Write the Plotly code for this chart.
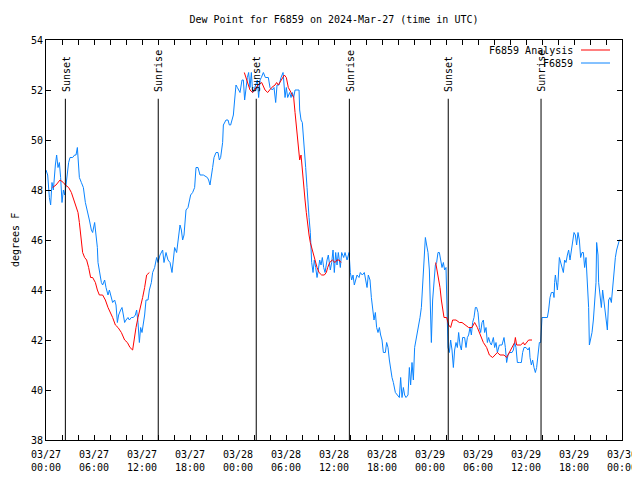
import pandas as pd
import plotly.graph_objects as go

# Hours after 2024-03-27 00:00 UTC
BASE = pd.Timestamp("2024-03-27 00:00")

obs_hours = [
    0.00, 0.21, 0.42, 0.58, 0.75, 0.92, 1.17, 1.33, 1.50, 1.67, 1.83, 2.00, 2.17, 2.33, 2.50, 2.67,
    2.83, 3.00, 3.33, 3.58, 3.75, 3.92, 4.04, 4.17, 4.42, 4.67, 4.92, 5.08, 5.25, 5.42, 5.67, 5.83,
    6.08, 6.25, 6.42, 6.50, 6.67, 6.92, 7.08, 7.33, 7.50, 7.75, 7.92, 8.17, 8.33, 8.58, 8.75, 8.92,
    9.08, 9.33, 9.50, 9.67, 9.83, 10.00, 10.25, 10.42, 10.67, 10.92, 11.17, 11.33, 11.50, 11.67,
    11.83, 12.00, 12.17, 12.33, 12.50, 12.75, 12.92, 13.17, 13.33, 13.58, 13.83, 14.00, 14.25,
    14.42, 14.58, 14.75, 15.00, 15.25, 15.50, 15.75, 15.92, 16.08, 16.33, 16.50, 16.75, 16.92,
    17.08, 17.25, 17.42, 17.50, 17.75, 17.92, 18.08, 18.33, 18.58, 18.75, 19.00, 19.25, 19.67,
    20.17, 20.33, 20.50, 20.67, 20.83, 21.00, 21.25, 21.50, 21.67, 21.83, 22.08, 22.17, 22.50,
    22.75, 22.92, 23.08, 23.25, 23.42, 23.58, 23.75, 23.92, 24.08, 24.25, 24.50, 24.67, 24.83,
    25.00, 25.17, 25.33, 25.50, 25.67, 25.83, 26.00, 26.25, 26.42, 26.58, 26.75, 26.92, 27.17,
    27.42, 27.79, 28.00, 28.29, 28.50, 28.71, 28.88, 29.13, 29.38, 29.63, 29.71, 29.88, 30.04,
    30.21, 30.46, 30.63, 30.79, 30.96, 31.13, 31.29, 31.63, 31.71, 31.88, 32.04, 32.21, 32.38,
    32.46, 32.63, 32.71, 32.88, 33.04, 33.13, 33.21, 33.38, 33.54, 33.71, 33.88, 34.04, 34.21,
    34.38, 34.54, 34.71, 34.88, 35.13, 35.29, 35.54, 35.71, 35.88, 36.04, 36.21, 36.38, 36.54,
    36.79, 36.96, 37.21, 37.38, 37.63, 37.88, 38.04, 38.21, 38.38, 38.54, 38.71, 38.88, 39.13,
    39.29, 39.54, 39.79, 39.96, 40.13, 40.29, 40.50, 40.67, 40.83, 41.00, 41.17, 41.33, 41.50,
    41.67, 41.83, 42.00, 42.17, 42.42, 42.58, 42.75, 42.92, 43.08, 43.25, 43.42, 43.67, 43.92,
    44.17, 44.33, 44.50, 44.67, 44.83, 45.00, 45.25, 45.42, 45.58, 45.75, 45.92, 46.08, 46.33,
    46.58, 46.75, 46.92, 47.08, 47.25, 47.42, 47.58, 47.75, 47.92, 48.08, 48.17, 48.33, 48.50,
    48.67, 48.83, 49.00, 49.17, 49.33, 49.50, 49.67, 49.83, 50.00, 50.17, 50.25, 50.42, 50.58,
    50.75, 50.92, 51.08, 51.25, 51.42, 51.58, 51.75, 51.92, 52.08, 52.33, 52.50, 52.67, 52.83,
    53.00, 53.17, 53.33, 53.50, 53.67, 53.83, 54.00, 54.17, 54.33, 54.50, 54.67, 54.83, 55.00,
    55.17, 55.33, 55.50, 55.67, 55.92, 56.08, 56.25, 56.42, 56.67, 57.00, 57.25, 57.42, 57.58,
    57.75, 57.92, 58.25, 58.42, 58.58, 58.75, 58.92, 59.17, 59.42, 59.58, 59.75, 60.00, 60.25,
    60.42, 60.50, 60.67, 60.83, 61.00, 61.17, 61.33, 61.50, 61.67, 61.83, 61.92, 62.00, 62.67,
    62.83, 63.00, 63.17, 63.42, 63.50, 63.58, 63.67, 63.92, 64.00, 64.17, 64.33, 64.50, 64.67,
    64.83, 65.00, 65.17, 65.33, 65.50, 65.67, 65.83, 66.00, 66.17, 66.33, 66.50, 66.67, 66.83,
    67.00, 67.17, 67.33, 67.50, 67.67, 67.83, 67.92, 68.08, 68.25, 68.42, 68.58, 68.75, 68.83,
    69.00, 69.08, 69.25, 69.42, 69.58, 69.75, 69.92, 70.08, 70.17, 70.33, 70.50, 70.67, 70.83,
    71.00, 71.17, 71.33, 71.50, 71.67, 71.83,
]
obs_dewpt = [
    48.8, 48.6, 47.7, 47.4, 48.3, 48.0, 49.0, 49.4, 48.9, 49.1, 48.5, 47.5, 48.0, 47.8, 48.2, 48.7,
    49.1, 49.3, 49.3, 49.4, 49.4, 49.7, 49.2, 48.5, 48.3, 48.1, 47.5, 47.3, 47.0, 46.8, 46.4, 46.3,
    46.7, 46.2, 45.7, 45.1, 44.7, 44.3, 44.2, 44.4, 44.1, 43.8, 44.0, 43.7, 43.5, 43.6, 43.4, 42.7,
    43.0, 43.2, 43.3, 43.0, 42.7, 42.8, 42.9, 42.8, 42.9, 42.9, 43.0, 43.2, 42.7, 41.9,
    42.5, 42.3, 42.6, 43.0, 43.6, 43.6, 44.0, 44.3, 44.7, 44.9, 45.3, 45.1, 45.4,
    45.5, 45.6, 45.1, 45.5, 45.2, 45.1, 44.7, 45.2, 45.7, 45.5, 45.9, 46.6, 46.4,
    46.0, 46.2, 46.8, 47.2, 47.3, 47.6, 47.8, 47.9, 48.1, 48.9, 48.9, 48.6, 48.6,
    48.5, 48.4, 48.2, 48.5, 48.9, 49.3, 49.5, 49.5, 49.2, 49.3, 49.9, 50.6, 50.8,
    50.8, 50.6, 50.6, 50.8, 51.0, 51.6, 52.2, 52.1, 52.0, 51.9, 52.4, 52.4, 51.6,
    52.2, 52.5, 52.7, 52.1, 52.7, 51.9, 52.0, 52.3, 52.4, 51.7, 52.4, 52.5, 52.7,
    52.5, 52.5, 52.1, 52.0, 52.1, 51.5, 52.2, 52.2, 52.5, 52.7, 52.4, 51.7, 52.1,
    51.7, 51.9, 51.7, 51.9, 51.7, 52.0, 52.0, 52.0, 51.2, 50.8, 50.7, 50.0, 49.6,
    48.9, 48.1, 47.5, 46.9, 46.3, 45.7, 45.1, 44.7, 45.2, 44.9, 44.5, 44.8, 45.2,
    45.0, 45.3, 44.9, 44.7, 45.2, 45.4, 44.8, 45.1, 45.6, 44.7, 45.5, 45.0, 45.5,
    44.9, 45.5, 45.3, 45.5, 45.2, 45.5, 44.7, 44.4, 44.6, 44.2, 44.4, 44.6, 44.5,
    44.7, 44.6, 44.7, 44.4, 44.1, 44.6, 44.4, 43.7, 43.1, 42.8, 43.1, 42.5, 42.3,
    42.5, 42.2, 42.0, 41.5, 41.5, 41.9, 41.7, 41.2, 40.8, 40.5, 40.3, 39.9, 39.8,
    39.7, 40.5, 39.7, 40.1, 39.8, 39.7, 39.8, 40.9, 40.2, 41.1, 40.4, 41.7, 42.1,
    42.5, 42.9, 43.3, 44.1, 45.1, 46.1, 45.8, 45.5, 44.8, 43.2, 41.9, 43.6, 44.3,
    45.0, 45.1, 45.5, 45.5, 45.1, 44.9, 45.1, 44.8, 44.9, 43.2, 41.7, 41.5, 42.0,
    41.6, 40.9, 41.6, 41.9, 41.7, 42.3, 41.8, 41.6, 42.1, 42.1, 41.7, 42.1, 42.2,
    42.5, 42.2, 42.7, 42.9, 43.3, 43.3, 43.1, 42.5, 42.3, 42.7, 42.8, 42.3, 42.5,
    41.9, 42.1, 41.9, 41.8, 42.1, 41.7, 41.9, 41.5, 41.8, 41.8, 42.1, 41.7, 41.1,
    41.4, 41.5, 41.5, 41.6, 41.9, 41.7, 41.1, 41.1, 41.1, 41.5, 41.7, 41.7, 41.6,
    41.7, 41.3, 41.0, 41.2, 40.9, 40.7, 40.9, 41.3, 41.9, 41.9, 42.5, 42.9, 42.9,
    43.2, 43.7, 43.9, 43.9, 43.7, 44.3, 44.6, 44.0, 44.3, 45.3, 45.1, 44.9, 44.7,
    45.2, 45.1, 45.4, 45.6, 45.2, 45.6, 45.9, 46.3, 46.2, 45.8, 46.3, 46.0, 45.3,
    45.5, 45.5, 44.9, 45.3, 44.2, 43.3, 41.8, 42.1, 42.3, 42.8, 43.5, 44.3, 45.9,
    45.4, 44.3, 43.9, 43.3, 44.0, 43.5, 42.9, 42.7, 42.4, 43.6, 43.7, 43.5, 44.2,
    44.8, 45.3, 45.6, 45.8, 46.0, 46.0,
]

ana_seg1_hours = [0.83, 1.25, 1.75, 2.17, 2.42, 2.83, 3.17, 3.50, 3.75, 4.00, 4.17, 4.33, 4.42, 4.58,
                  4.83, 5.08, 5.33, 5.58, 5.83, 6.17, 6.42, 6.67, 7.08, 7.42, 7.75, 8.08, 8.33, 8.67,
                  9.00, 9.42, 9.83, 10.17, 10.50, 10.83, 11.00, 11.25, 11.50, 11.83, 12.08, 12.33,
                  12.58, 12.92]
ana_seg1_dewpt = [48.1, 48.2, 48.4, 48.3, 48.2, 48.1, 47.9, 47.6, 47.3, 47.1, 46.7, 46.3, 45.9, 45.5,
                  45.3, 45.2, 44.9, 44.5, 44.5, 44.3, 44.0, 43.8, 43.8, 43.6, 43.3, 43.1, 42.9, 42.6,
                  42.5, 42.3, 42.0, 41.9, 41.7, 41.6, 42.0, 42.5, 42.9, 43.3, 43.7, 44.1,
                  44.6, 44.7]
ana_seg2_hours = [24.79, 25.50, 25.83, 26.50, 26.96, 27.38, 27.71, 28.21, 28.63, 28.83, 29.04, 29.46,
                  29.79, 30.04, 30.29, 30.63, 30.96, 31.13, 31.29, 31.46, 31.54, 31.71, 31.88, 32.04,
                  32.21, 32.38, 32.54, 32.71, 32.88, 33.04, 33.21, 33.38, 33.63, 33.88, 34.13, 34.46,
                  34.79, 35.04, 35.21, 35.46, 35.79, 36.13, 36.38, 36.63, 36.88]
ana_seg2_dewpt = [52.7, 52.0, 51.9, 52.2, 52.3, 52.0, 51.9, 52.1, 52.2, 52.3, 52.2, 52.4,
                  52.6, 52.5, 52.1, 51.9, 51.7, 51.1, 50.5, 50.1, 49.7, 49.2, 49.4, 48.7,
                  48.1, 47.6, 47.1, 46.5, 46.2, 45.9, 45.7, 45.4, 45.2, 44.9, 44.7, 44.6,
                  44.6, 44.7, 44.9, 45.1, 45.2, 45.1, 45.2, 45.2, 45.1]
ana_seg3_hours = [48.71, 49.00, 49.25, 49.42, 49.58, 49.75, 50.08, 50.33, 50.58, 50.83, 51.25, 51.67,
                  52.00, 52.42, 52.83, 53.25, 53.58, 53.92, 54.25, 54.67, 55.08, 55.42, 55.83, 56.08,
                  56.42, 56.75, 57.25, 57.58, 57.92, 58.25, 58.58, 58.67, 58.83, 59.33, 59.67, 59.83,
                  60.08, 60.33, 60.75]
ana_seg3_dewpt = [45.1, 44.6, 44.1, 43.6, 43.2, 42.9, 42.9, 42.6, 42.5, 42.8, 42.8, 42.7,
                  42.7, 42.6, 42.5, 42.5, 42.7, 42.5, 42.2, 41.9, 41.7, 41.4, 41.3, 41.4,
                  41.5, 41.4, 41.4, 41.3, 41.5, 41.7, 41.9, 42.1, 41.8, 41.8, 41.9, 41.8,
                  41.9, 42.0, 42.0]

sun_event_hours = [2.42, 14.03, 26.28, 37.92, 50.28, 61.88]
sun_event_labels = ["Sunset", "Sunrise", "Sunset", "Sunrise", "Sunset", "Sunrise"]

y_ticks = [38, 40, 42, 44, 46, 48, 50, 52, 54]
x_tick_hours = list(range(0, 73, 2))

TITLE = "Dew Point for F6859 on 2024-Mar-27 (time in UTC)"
FONT = "DejaVu Sans Mono"
FS = 10
RED = "#ff0000"
BLUE = "#0a84ff"

# The page body adds an 8 px offset; size the figure so the plot box lands where it should.
OFF = 8
W, H = 640 - OFF, 480 - OFF


def to_time(hours):
    return [None if h is None else BASE + pd.Timedelta(hours=h) for h in hours]


ana_hours = ana_seg1_hours + [None] + ana_seg2_hours + [None] + ana_seg3_hours
ana_dewpt = ana_seg1_dewpt + [None] + ana_seg2_dewpt + [None] + ana_seg3_dewpt

fig = go.Figure()
fig.add_trace(go.Scatter(x=to_time(obs_hours), y=obs_dewpt, mode="lines", name="F6859",
                         line=dict(color=BLUE, width=1), connectgaps=False))
fig.add_trace(go.Scatter(x=to_time(ana_hours), y=ana_dewpt, mode="lines", name="F6859 Analysis",
                         line=dict(color=RED, width=1), connectgaps=False))

# Sunrise / sunset markers
line_top = 51.65
for h, lab in zip(sun_event_hours, sun_event_labels):
    t = BASE + pd.Timedelta(hours=h)
    fig.add_shape(type="line", x0=t, x1=t, y0=38, y1=line_top, xref="x", yref="y",
                  line=dict(color="black", width=1))
    fig.add_annotation(x=t, y=line_top, xref="x", yref="y", text=lab, textangle=-90,
                       showarrow=False, yanchor="bottom", xanchor="center", yshift=5, xshift=1,
                       font=dict(family=FONT, size=FS, color="black"))

tick_vals = [BASE + pd.Timedelta(hours=h) for h in x_tick_hours]
tick_text = [(BASE + pd.Timedelta(hours=h)).strftime("%m/%d<br>%H:%M") if h % 6 == 0 else ""
             for h in x_tick_hours]

fig.update_layout(
    width=W, height=H,
    margin=dict(l=46 - OFF, r=18, t=40 - OFF, b=40),
    paper_bgcolor="white", plot_bgcolor="white",
    showlegend=False,
    font=dict(family=FONT, size=FS, color="black"),
    title=dict(text=TITLE, x=0.5, xref="paper", y=1 - (19 - OFF) / H, yref="container",
               xanchor="center", yanchor="middle", font=dict(family=FONT, size=FS, color="black")),
    xaxis=dict(type="date", range=[BASE, BASE + pd.Timedelta(hours=72)], automargin=False,
               tickmode="array", tickvals=tick_vals, ticktext=tick_text,
               ticks="inside", ticklen=5, tickcolor="black", tickwidth=1,
               showline=True, linecolor="black", linewidth=1, mirror="ticks",
               showgrid=False, zeroline=False, ticklabelstandoff=5,
               tickfont=dict(family=FONT, size=FS, color="black")),
    yaxis=dict(range=[38, 54], tickmode="array", tickvals=y_ticks, automargin=False,
               ticks="inside", ticklen=5, tickcolor="black", tickwidth=1,
               showline=True, linecolor="black", linewidth=1, mirror="ticks",
               showgrid=False, zeroline=False,
               tickfont=dict(family=FONT, size=FS, color="black")),
)

# Y axis title
fig.add_annotation(x=(15 - 46) / 576, y=0.5, xref="paper", yref="paper", text="degrees F",
                   textangle=-90, showarrow=False, xanchor="center", yanchor="middle",
                   font=dict(family=FONT, size=FS, color="black"))

# gnuplot-style key (text right-aligned, sample line to the right)
key_entries = [("F6859 Analysis", RED, 50), ("F6859", BLUE, 63)]
for label, color, py in key_entries:
    yp = (440 - py) / 400
    fig.add_annotation(x=(575 - 46) / 576, y=yp, xref="paper", yref="paper", text=label,
                       showarrow=False, xanchor="right", yanchor="middle",
                       font=dict(family=FONT, size=FS, color="black"))
    fig.add_shape(type="line", x0=(581 - 46) / 576, x1=(610 - 46) / 576, y0=yp, y1=yp,
                  xref="paper", yref="paper", line=dict(color=color, width=1))

fig.write_html("out.html")
